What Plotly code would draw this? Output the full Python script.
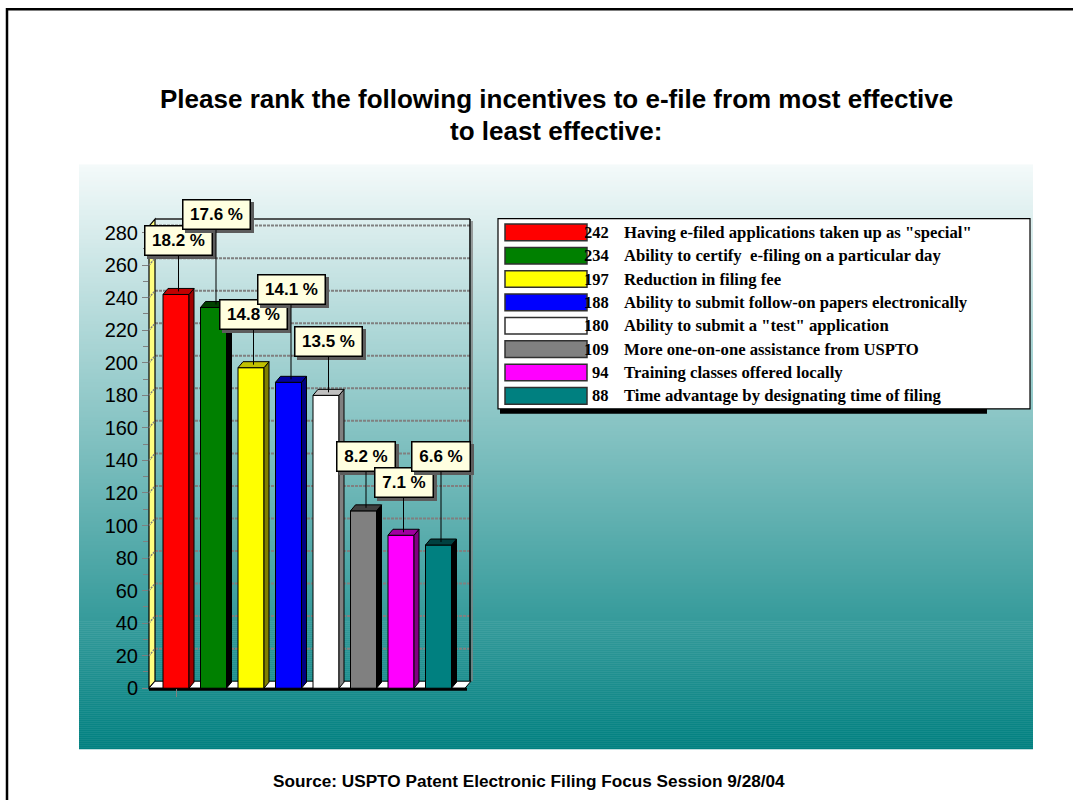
import plotly.graph_objects as go

# ---- data ---------------------------------------------------------------
categories = [
    'Having e-filed applications taken up as "special"',
    'Ability to certify  e-filing on a particular day',
    'Reduction in filing fee',
    'Ability to submit follow-on papers electronically',
    'Ability to submit a "test" application',
    'More one-on-one assistance from USPTO',
    'Training classes offered locally',
    'Time advantage by designating time of filing',
]
votes = [242, 234, 197, 188, 180, 109, 94, 88]
y_ticks = list(range(0, 281, 20))

total = sum(votes)
percent_labels = [f"{v / total * 100:.1f} %" for v in votes]

# ---- styling ------------------------------------------------------------
face_colors = ['#ff0000', '#008000', '#ffff00', '#0000ff',
               '#ffffff', '#808080', '#ff00ff', '#008080']
top_colors = ['#c00000', '#004000', '#c0c000', '#0000a0',
              '#c0c0c0', '#404040', '#a000a0', '#004040']
side_colors = ['#a00000', '#000000', '#808000', '#000080',
               '#808080', '#000000', '#800080', '#000000']
# pixel offsets of each percentage callout above the top of its bar
label_offsets = [-50, -88, -49, -88, -50, -50, -49, -84]

W, H = 1073, 800
SANS = "Liberation Sans"
SERIF = "Liberation Serif"

# vertical page-to-layout correction
SY, OY = 0.98, 4.66


def fx(p):
    return p / W


def fy(p):
    return 1 - ((p - OY) / SY) / H


# plot geometry (pixels)
X_LEFT, X_RIGHT = 149, 465
FIRST_CENTER, CAT_STEP = 176, 37.5
Y_ZERO, PX_PER_UNIT = 688, 1.625
Y_MAX = 284
BAR_W = 26 / CAT_STEP
DX, DY = 5 / CAT_STEP, 6 / PX_PER_UNIT       # bar depth in data units
WALL_X, WALL_Y = 6, 7                         # wall depth in pixels


def ypix(v):
    return Y_ZERO - v * PX_PER_UNIT


x_range = [(X_LEFT - FIRST_CENTER) / CAT_STEP, (X_RIGHT - FIRST_CENTER) / CAT_STEP]

fig = go.Figure()

# ---- bars: front face, side face, top face ------------------------------
xs = list(range(len(votes)))
fig.add_trace(go.Bar(
    x=xs, y=votes, width=BAR_W,
    marker=dict(color=face_colors, line=dict(color='black', width=1)),
    hoverinfo='skip', showlegend=False,
))
hw = BAR_W / 2
for i, v in enumerate(votes):
    side_x = [i + hw, i + hw + DX, i + hw + DX, i + hw, i + hw]
    side_y = [0, DY, v + DY, v, 0]
    fig.add_trace(go.Scatter(
        x=side_x, y=side_y, mode='lines', fill='toself',
        fillcolor=side_colors[i], line=dict(color='black', width=1),
        hoverinfo='skip', showlegend=False,
    ))
    top_x = [i - hw, i - hw + DX, i + hw + DX, i + hw, i - hw]
    top_y = [v, v + DY, v + DY, v, v]
    fig.add_trace(go.Scatter(
        x=top_x, y=top_y, mode='lines', fill='toself',
        fillcolor=top_colors[i], line=dict(color='black', width=1),
        hoverinfo='skip', showlegend=False,
    ))

shapes = []

# slide border
shapes.append(dict(type='rect', xref='paper', yref='paper', layer='below',
                   x0=fx(7), y0=fy(830), x1=fx(1090), y1=fy(10),
                   line=dict(color='black', width=2.5)))

# gradient panel behind the chart
PANEL_L, PANEL_R, PANEL_T, PANEL_B = 79, 1033, 165, 749
top_rgb, bot_rgb = (244, 250, 250), (0, 128, 128)
band = 2
y = PANEL_T
while y < PANEL_B:
    t = (y + band / 2 - PANEL_T) / (PANEL_B - PANEL_T)
    rgb = [round(a + (b - a) * t) for a, b in zip(top_rgb, bot_rgb)]
    shapes.append(dict(type='rect', xref='paper', yref='paper', layer='below',
                       x0=fx(PANEL_L), x1=fx(PANEL_R),
                       y0=fy(min(y + band + 0.5, PANEL_B)), y1=fy(y),
                       fillcolor=f'rgb({rgb[0]},{rgb[1]},{rgb[2]})',
                       line=dict(width=0)))
    y += band

# back wall gridlines
for v in y_ticks[1:]:
    yy = ypix(v) - WALL_Y
    shapes.append(dict(type='line', xref='paper', yref='paper', layer='below',
                       x0=fx(X_LEFT + WALL_X), x1=fx(X_RIGHT + 5), y0=fy(yy), y1=fy(yy),
                       line=dict(color='#808080', width=2, dash='3px,1px')))

# back wall top and right edges
wall_top = ypix(Y_MAX) - WALL_Y
shapes.append(dict(type='line', xref='paper', yref='paper', layer='below',
                   x0=fx(X_LEFT + WALL_X), x1=fx(X_RIGHT + 5), y0=fy(wall_top), y1=fy(wall_top),
                   line=dict(color='#202020', width=1.5)))
shapes.append(dict(type='line', xref='paper', yref='paper', layer='below',
                   x0=fx(X_RIGHT + 7), x1=fx(X_RIGHT + 7), y0=fy(wall_top + 2), y1=fy(Y_ZERO - WALL_Y),
                   line=dict(color='#808080', width=1.5)))
shapes.append(dict(type='line', xref='paper', yref='paper', layer='below',
                   x0=fx(X_RIGHT + 5), x1=fx(X_RIGHT + 5), y0=fy(wall_top), y1=fy(Y_ZERO - WALL_Y),
                   line=dict(color='black', width=1.5)))

# left wall
lw_path = (f"M {fx(X_LEFT)} {fy(Y_ZERO)} L {fx(X_LEFT + WALL_X)} {fy(Y_ZERO - WALL_Y)} "
           f"L {fx(X_LEFT + WALL_X)} {fy(wall_top)} L {fx(X_LEFT)} {fy(ypix(Y_MAX))} Z")
shapes.append(dict(type='path', xref='paper', yref='paper', layer='below', path=lw_path,
                   fillcolor='#ffff80', line=dict(color='black', width=1.2)))
for v in y_ticks[1:]:
    shapes.append(dict(type='line', xref='paper', yref='paper', layer='below',
                       x0=fx(X_LEFT), y0=fy(ypix(v)), x1=fx(X_LEFT + WALL_X), y1=fy(ypix(v) - WALL_Y),
                       line=dict(color='#808080', width=1.5, dash='2px,1px')))

# floor
floor_path = (f"M {fx(X_LEFT)} {fy(Y_ZERO)} L {fx(X_RIGHT)} {fy(Y_ZERO)} "
              f"L {fx(X_RIGHT + WALL_X)} {fy(Y_ZERO - WALL_Y)} L {fx(X_LEFT + WALL_X)} {fy(Y_ZERO - WALL_Y)} Z")
shapes.append(dict(type='path', xref='paper', yref='paper', layer='below', path=floor_path,
                   fillcolor='white', line=dict(color='black', width=1)))
shapes.append(dict(type='line', xref='paper', yref='paper', layer='below',
                   x0=fx(X_LEFT), x1=fx(X_RIGHT + 2), y0=fy(Y_ZERO + 1), y1=fy(Y_ZERO + 1),
                   line=dict(color='black', width=3)))

# legend box
LG_L, LG_R, LG_T, LG_B = 498, 1030, 219, 409
shapes.append(dict(type='rect', xref='paper', yref='paper', layer='below',
                   x0=fx(LG_L + 2), x1=fx(987), y0=fy(LG_B + 5), y1=fy(LG_B),
                   fillcolor='black', line=dict(width=0)))
shapes.append(dict(type='rect', xref='paper', yref='paper', layer='below',
                   x0=fx(LG_L), x1=fx(LG_R), y0=fy(LG_B), y1=fy(LG_T),
                   fillcolor='white', line=dict(color='black', width=1.2)))

annotations = []
ROW0, ROW_STEP = 232.7, 23.33
for i, (name, v) in enumerate(zip(categories, votes)):
    cy = ROW0 + i * ROW_STEP
    shapes.append(dict(type='rect', xref='paper', yref='paper', layer='below',
                       x0=fx(505), x1=fx(587), y0=fy(cy + 8.3), y1=fy(cy - 8.3),
                       fillcolor=face_colors[i], line=dict(color='#303030', width=1.5)))
    annotations.append(dict(xref='paper', yref='paper', x=fx(611), y=fy(cy),
                            xanchor='right', yanchor='middle', showarrow=False,
                            text=str(v),
                            font=dict(family=SERIF, size=16.5, color='black', weight='bold')))
    annotations.append(dict(xref='paper', yref='paper', x=fx(622), y=fy(cy),
                            xanchor='left', yanchor='middle', showarrow=False,
                            text=name,
                            font=dict(family=SERIF, size=16.7, color='black', weight='bold')))

# percentage callouts with drop shadows
for i, (v, lab) in enumerate(zip(votes, percent_labels)):
    bw = 66 if len(lab) > 5 else 57
    common = dict(x=i + DX / 2, y=v + DY / 2, xref='x', yref='y', text=lab,
                  showarrow=True, ax=0, ay=label_offsets[i] / SY, axref='pixel', ayref='pixel',
                  width=bw, height=27 / SY, borderpad=0, align='center')
    annotations.append(dict(common, bgcolor='#5c5c5c', bordercolor='#5c5c5c', borderwidth=1.5,
                            arrowcolor='rgba(0,0,0,0)', xshift=3, yshift=-3,
                            font=dict(family=SANS, size=17, color='rgba(0,0,0,0)', weight='bold')))
    annotations.append(dict(common, bgcolor='#ffffe0', bordercolor='black', borderwidth=1.5,
                            arrowcolor='black', arrowwidth=1, arrowhead=0,
                            font=dict(family=SANS, size=17, color='black', weight='bold')))

# title and source line
annotations.append(dict(xref='paper', yref='paper', x=fx(556), y=fy(100), showarrow=False,
                        xanchor='center', yanchor='middle',
                        text='Please rank the following incentives to e-file from most effective',
                        font=dict(family=SANS, size=26, color='black', weight='bold')))
annotations.append(dict(xref='paper', yref='paper', x=fx(556), y=fy(131), showarrow=False,
                        xanchor='center', yanchor='middle',
                        text='to least effective:',
                        font=dict(family=SANS, size=26, color='black', weight='bold')))
annotations.append(dict(xref='paper', yref='paper', x=fx(529), y=fy(781), showarrow=False,
                        xanchor='center', yanchor='middle',
                        text='Source: USPTO Patent Electronic Filing Focus Session 9/28/04',
                        font=dict(family=SANS, size=17.2, color='black', weight='bold')))

fig.update_layout(
    width=W, height=H,
    margin=dict(l=0, r=0, t=0, b=0),
    paper_bgcolor='white', plot_bgcolor='rgba(0,0,0,0)',
    showlegend=False,
    xaxis=dict(domain=[fx(X_LEFT), fx(X_RIGHT)], range=x_range, fixedrange=True,
               showticklabels=False, showgrid=False, zeroline=False, showline=False,
               tickvals=[0], ticks='outside', ticklen=8, tickcolor='#808080'),
    yaxis=dict(domain=[fy(Y_ZERO), fy(ypix(Y_MAX))], range=[0, Y_MAX],
               tickvals=y_ticks, ticks='outside', ticklen=6, tickcolor='#808080', tickwidth=1,
               minor=dict(tick0=0, dtick=10, ticks='outside', ticklen=5, tickcolor='#808080'),
               showgrid=False, zeroline=False, showline=False, ticklabelstandoff=0,
               tickfont=dict(family=SANS, size=20, color='black'), fixedrange=True),
    shapes=shapes,
    annotations=annotations,
)

fig.write_html("out.html")
